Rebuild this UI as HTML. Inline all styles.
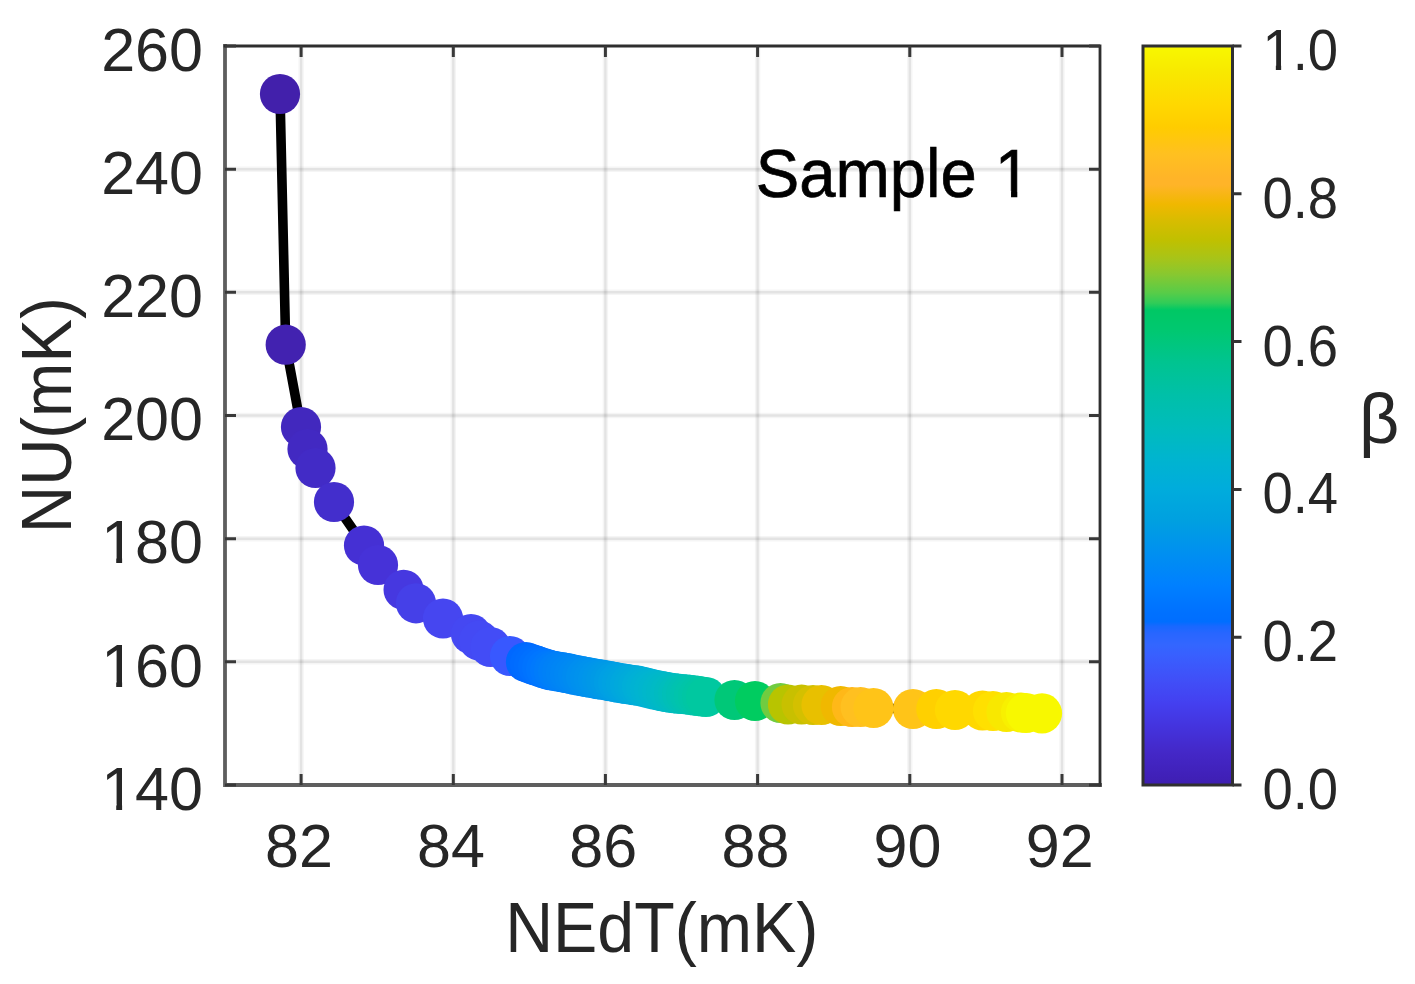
<!DOCTYPE html>
<html><head><meta charset="utf-8"><title>NU vs NEdT</title>
<style>
html,body{margin:0;padding:0;background:#fff;width:1415px;height:984px;overflow:hidden}
svg{display:block;filter:blur(0.45px)}
text{font-family:'Liberation Sans', Arial, Helvetica, sans-serif;}
.t{fill:#262626}
.l{fill:#262626}
.s{fill:#000;stroke:#000;stroke-width:0.7px}
</style></head><body>
<svg width="1415" height="984" viewBox="0 0 1415 984"><defs><linearGradient id="cb" x1="0" y1="0" x2="0" y2="1"><stop offset="0.000" stop-color="#f8f800"/><stop offset="0.036" stop-color="#f8e800"/><stop offset="0.080" stop-color="#ffd800"/><stop offset="0.110" stop-color="#ffcc00"/><stop offset="0.146" stop-color="#ffc020"/><stop offset="0.180" stop-color="#ffb428"/><stop offset="0.188" stop-color="#ffb428"/><stop offset="0.214" stop-color="#f0b800"/><stop offset="0.236" stop-color="#d8bc00"/><stop offset="0.263" stop-color="#c0c000"/><stop offset="0.287" stop-color="#a8c418"/><stop offset="0.309" stop-color="#88c830"/><stop offset="0.334" stop-color="#58cc48"/><stop offset="0.348" stop-color="#30cc58"/><stop offset="0.357" stop-color="#00c864"/><stop offset="0.384" stop-color="#00c870"/><stop offset="0.428" stop-color="#00c490"/><stop offset="0.472" stop-color="#00c0a8"/><stop offset="0.516" stop-color="#00bcbc"/><stop offset="0.560" stop-color="#00b4d0"/><stop offset="0.600" stop-color="#00acdc"/><stop offset="0.642" stop-color="#00a0e0"/><stop offset="0.686" stop-color="#0090f0"/><stop offset="0.730" stop-color="#0080ff"/><stop offset="0.763" stop-color="#0072ff"/><stop offset="0.779" stop-color="#006eff"/><stop offset="0.785" stop-color="#1868ff"/><stop offset="0.795" stop-color="#2866ff"/><stop offset="0.810" stop-color="#3366ff"/><stop offset="0.823" stop-color="#3860ff"/><stop offset="0.856" stop-color="#4050f8"/><stop offset="0.889" stop-color="#4440f0"/><stop offset="0.922" stop-color="#4433dd"/><stop offset="0.955" stop-color="#4428c8"/><stop offset="0.988" stop-color="#4020b8"/><stop offset="1.000" stop-color="#3e1fb0"/></linearGradient></defs>
<rect width="1415" height="984" fill="#fff"/>
<g stroke="#000" fill="none"><path d="M301.1 46.0V785.0 M453.3 46.0V785.0 M605.4 46.0V785.0 M757.6 46.0V785.0 M909.8 46.0V785.0 M1062.0 46.0V785.0" stroke-opacity="0.04" stroke-width="5.5"/><path d="M301.1 46.0V785.0 M453.3 46.0V785.0 M605.4 46.0V785.0 M757.6 46.0V785.0 M909.8 46.0V785.0 M1062.0 46.0V785.0" stroke-opacity="0.07" stroke-width="2.4"/></g>
<g stroke="#000" fill="none"><path d="M225.0 661.8H1100.0 M225.0 538.7H1100.0 M225.0 415.5H1100.0 M225.0 292.3H1100.0 M225.0 169.2H1100.0" stroke-opacity="0.04" stroke-width="5.5"/><path d="M225.0 661.8H1100.0 M225.0 538.7H1100.0 M225.0 415.5H1100.0 M225.0 292.3H1100.0 M225.0 169.2H1100.0" stroke-opacity="0.07" stroke-width="2.4"/></g>
<path d="M280.0 94.0 L285.7 344.7 L301.0 427.0 L307.5 449.0 L315.5 468.0 L334.0 502.0 L364.0 545.5 L378.0 565.0 L403.6 589.8 L416.0 603.3 L443.0 618.5 L471.0 634.0 L479.0 640.5 L490.5 647.0 L510.0 656.0 L526.0 662.0 L530.0 663.5 L534.0 664.9 L538.0 666.2 L542.0 667.6 L546.0 668.9 L550.0 670.1 L554.0 670.8 L558.0 671.5 L562.0 672.2 L566.0 672.9 L570.0 673.7 L574.0 674.6 L578.0 675.4 L582.0 676.2 L586.0 676.9 L590.0 677.6 L594.0 678.3 L598.0 679.1 L602.0 679.7 L606.0 680.3 L610.0 681.1 L614.0 681.8 L618.0 682.6 L622.0 683.3 L626.0 683.9 L630.0 684.5 L634.0 685.1 L638.0 685.7 L642.0 686.5 L646.0 687.5 L650.0 688.5 L654.0 689.5 L658.0 690.3 L662.0 691.1 L666.0 691.9 L670.0 692.7 L674.0 693.2 L678.0 693.6 L682.0 694.0 L686.0 694.3 L690.0 694.8 L694.0 695.4 L698.0 695.9 L702.0 696.5 L706.0 697.0 L734.5 700.0 L755.0 701.0 L780.5 703.0 L788.0 704.5 L801.6 704.5 L813.0 705.0 L821.5 705.0 L840.7 706.0 L852.0 707.0 L860.6 707.0 L873.5 708.0 L913.0 709.0 L936.3 709.0 L955.0 710.0 L982.5 710.5 L993.0 711.0 L1006.5 712.0 L1021.0 712.5 L1026.0 713.0 L1042.0 713.4" stroke="#000" stroke-width="9.6" fill="none" stroke-linejoin="round"/>
<circle cx="280.0" cy="94.0" r="20.1" fill="#4220ab"/>
<circle cx="285.7" cy="344.7" r="20.1" fill="#4222b0"/>
<circle cx="301.0" cy="427.0" r="20.1" fill="#4228be"/>
<circle cx="307.5" cy="449.0" r="20.1" fill="#4229c2"/>
<circle cx="315.5" cy="468.0" r="20.1" fill="#422bc6"/>
<circle cx="334.0" cy="502.0" r="20.1" fill="#432ecc"/>
<circle cx="364.0" cy="545.5" r="20.1" fill="#4530d4"/>
<circle cx="378.0" cy="565.0" r="20.1" fill="#4632d8"/>
<circle cx="403.6" cy="589.8" r="20.1" fill="#4638e0"/>
<circle cx="416.0" cy="603.3" r="20.1" fill="#4540e8"/>
<circle cx="443.0" cy="618.5" r="20.1" fill="#4646f0"/>
<circle cx="471.0" cy="634.0" r="20.1" fill="#4548f2"/>
<circle cx="479.0" cy="640.5" r="20.1" fill="#444af4"/>
<circle cx="490.5" cy="647.0" r="20.1" fill="#434cf6"/>
<circle cx="510.0" cy="656.0" r="20.1" fill="#3858ff"/>
<circle cx="526.0" cy="662.0" r="20.1" fill="#0068ff"/>
<circle cx="530.0" cy="663.5" r="20.1" fill="#006bff"/>
<circle cx="534.0" cy="664.9" r="20.1" fill="#006dff"/>
<circle cx="538.0" cy="666.2" r="20.1" fill="#0070ff"/>
<circle cx="542.0" cy="667.6" r="20.1" fill="#0073ff"/>
<circle cx="546.0" cy="668.9" r="20.1" fill="#0076ff"/>
<circle cx="550.0" cy="670.1" r="20.1" fill="#0079fd"/>
<circle cx="554.0" cy="670.8" r="20.1" fill="#007cfb"/>
<circle cx="558.0" cy="671.5" r="20.1" fill="#007ff9"/>
<circle cx="562.0" cy="672.2" r="20.1" fill="#0081f7"/>
<circle cx="566.0" cy="672.9" r="20.1" fill="#0083f6"/>
<circle cx="570.0" cy="673.7" r="20.1" fill="#0085f5"/>
<circle cx="574.0" cy="674.6" r="20.1" fill="#0087f4"/>
<circle cx="578.0" cy="675.4" r="20.1" fill="#0089f3"/>
<circle cx="582.0" cy="676.2" r="20.1" fill="#008bf1"/>
<circle cx="586.0" cy="676.9" r="20.1" fill="#008ef0"/>
<circle cx="590.0" cy="677.6" r="20.1" fill="#0090ee"/>
<circle cx="594.0" cy="678.3" r="20.1" fill="#0092ed"/>
<circle cx="598.0" cy="679.1" r="20.1" fill="#0094ec"/>
<circle cx="602.0" cy="679.7" r="20.1" fill="#0096ea"/>
<circle cx="606.0" cy="680.3" r="20.1" fill="#0098e8"/>
<circle cx="610.0" cy="681.1" r="20.1" fill="#009ae6"/>
<circle cx="614.0" cy="681.8" r="20.1" fill="#009de5"/>
<circle cx="618.0" cy="682.6" r="20.1" fill="#00a0e4"/>
<circle cx="622.0" cy="683.3" r="20.1" fill="#00a2e2"/>
<circle cx="626.0" cy="683.9" r="20.1" fill="#00a4e0"/>
<circle cx="630.0" cy="684.5" r="20.1" fill="#00a7de"/>
<circle cx="634.0" cy="685.1" r="20.1" fill="#00a9dc"/>
<circle cx="638.0" cy="685.7" r="20.1" fill="#00abda"/>
<circle cx="642.0" cy="686.5" r="20.1" fill="#00aed8"/>
<circle cx="646.0" cy="687.5" r="20.1" fill="#00b0d6"/>
<circle cx="650.0" cy="688.5" r="20.1" fill="#00b2d3"/>
<circle cx="654.0" cy="689.5" r="20.1" fill="#00b4d1"/>
<circle cx="658.0" cy="690.3" r="20.1" fill="#00b5ce"/>
<circle cx="662.0" cy="691.1" r="20.1" fill="#00b7cb"/>
<circle cx="666.0" cy="691.9" r="20.1" fill="#00b8c8"/>
<circle cx="670.0" cy="692.7" r="20.1" fill="#00bac5"/>
<circle cx="674.0" cy="693.2" r="20.1" fill="#00bbc1"/>
<circle cx="678.0" cy="693.6" r="20.1" fill="#00bdbd"/>
<circle cx="682.0" cy="694.0" r="20.1" fill="#00bfb8"/>
<circle cx="686.0" cy="694.3" r="20.1" fill="#00c0b4"/>
<circle cx="690.0" cy="694.8" r="20.1" fill="#00c2b0"/>
<circle cx="694.0" cy="695.4" r="20.1" fill="#00c4ac"/>
<circle cx="698.0" cy="695.9" r="20.1" fill="#00c5a8"/>
<circle cx="702.0" cy="696.5" r="20.1" fill="#00c6a4"/>
<circle cx="706.0" cy="697.0" r="20.1" fill="#00c8a0"/>
<circle cx="734.5" cy="700.0" r="20.1" fill="#00c878"/>
<circle cx="755.0" cy="701.0" r="20.1" fill="#00cc60"/>
<circle cx="780.5" cy="703.0" r="20.1" fill="#70cc40"/>
<circle cx="788.0" cy="704.5" r="20.1" fill="#b8c400"/>
<circle cx="801.6" cy="704.5" r="20.1" fill="#c8c000"/>
<circle cx="813.0" cy="705.0" r="20.1" fill="#d4c000"/>
<circle cx="821.5" cy="705.0" r="20.1" fill="#e8c000"/>
<circle cx="840.7" cy="706.0" r="20.1" fill="#f0b800"/>
<circle cx="852.0" cy="707.0" r="20.1" fill="#ffb818"/>
<circle cx="860.6" cy="707.0" r="20.1" fill="#ffc020"/>
<circle cx="873.5" cy="708.0" r="20.1" fill="#ffc418"/>
<circle cx="913.0" cy="709.0" r="20.1" fill="#ffc418"/>
<circle cx="936.3" cy="709.0" r="20.1" fill="#ffd000"/>
<circle cx="955.0" cy="710.0" r="20.1" fill="#ffd800"/>
<circle cx="982.5" cy="710.5" r="20.1" fill="#ffd800"/>
<circle cx="993.0" cy="711.0" r="20.1" fill="#ffe000"/>
<circle cx="1006.5" cy="712.0" r="20.1" fill="#f8e800"/>
<circle cx="1021.0" cy="712.5" r="20.1" fill="#f8f000"/>
<circle cx="1026.0" cy="713.0" r="20.1" fill="#f8f800"/>
<circle cx="1042.0" cy="713.4" r="20.1" fill="#f8f800"/>
<path d="M225.0 46.0V785.0H1100.0" fill="none" stroke="#5e5e5e" stroke-width="3.8" stroke-linecap="square"/>
<path d="M225.0 46.0H1100.0V785.0" fill="none" stroke="#2e2e2e" stroke-width="2.8" stroke-linecap="square"/>
<path d="M301.1 785.0v-11M301.1 46.0v11M453.3 785.0v-11M453.3 46.0v11M605.4 785.0v-11M605.4 46.0v11M757.6 785.0v-11M757.6 46.0v11M909.8 785.0v-11M909.8 46.0v11M1062.0 785.0v-11M1062.0 46.0v11M225.0 785.0h11M1100.0 785.0h-11M225.0 661.8h11M1100.0 661.8h-11M225.0 538.7h11M1100.0 538.7h-11M225.0 415.5h11M1100.0 415.5h-11M225.0 292.3h11M1100.0 292.3h-11M225.0 169.2h11M1100.0 169.2h-11M225.0 46.0h11M1100.0 46.0h-11" stroke="#383838" stroke-width="3.0" fill="none"/>
<text transform="translate(203.00 809.70) scale(0.9850 1)" text-anchor="end" font-size="62.00" class="t">140</text>
<text transform="translate(203.00 686.53) scale(0.9850 1)" text-anchor="end" font-size="62.00" class="t">160</text>
<text transform="translate(203.00 563.37) scale(0.9850 1)" text-anchor="end" font-size="62.00" class="t">180</text>
<text transform="translate(203.00 440.20) scale(0.9850 1)" text-anchor="end" font-size="62.00" class="t">200</text>
<text transform="translate(203.00 317.03) scale(0.9850 1)" text-anchor="end" font-size="62.00" class="t">220</text>
<text transform="translate(203.00 193.87) scale(0.9850 1)" text-anchor="end" font-size="62.00" class="t">240</text>
<text transform="translate(203.00 70.70) scale(0.9850 1)" text-anchor="end" font-size="62.00" class="t">260</text>
<text transform="translate(298.89 866.60) scale(0.9850 1)" text-anchor="middle" font-size="62.00" class="t">82</text>
<text transform="translate(451.06 866.60) scale(0.9850 1)" text-anchor="middle" font-size="62.00" class="t">84</text>
<text transform="translate(603.23 866.60) scale(0.9850 1)" text-anchor="middle" font-size="62.00" class="t">86</text>
<text transform="translate(755.41 866.60) scale(0.9850 1)" text-anchor="middle" font-size="62.00" class="t">88</text>
<text transform="translate(907.58 866.60) scale(0.9850 1)" text-anchor="middle" font-size="62.00" class="t">90</text>
<text transform="translate(1059.76 866.60) scale(0.9850 1)" text-anchor="middle" font-size="62.00" class="t">92</text>
<text transform="translate(661.80 951.70) scale(0.9490 1)" text-anchor="middle" font-size="69.90" class="l">NEdT(mK)</text>
<text transform="translate(71.1 415.1) rotate(-90) scale(0.94 1)" text-anchor="middle" font-size="69.5" class="l">NU(mK)</text>
<text transform="translate(755.70 197.00) scale(0.9450 1)" text-anchor="start" font-size="69.00" class="s">Sample 1</text>
<rect x="1143.0" y="46.0" width="89.5" height="739.0" fill="url(#cb)" stroke="#303030" stroke-width="3.0"/>
<path d="M1232.5 785.0h9M1232.5 637.2h9M1232.5 489.4h9M1232.5 341.6h9M1232.5 193.8h9M1232.5 46.0h9" stroke="#333" stroke-width="3.0" fill="none"/>
<text transform="translate(1262.40 809.00) scale(0.9620 1)" text-anchor="start" font-size="56.60" class="t">0.0</text>
<text transform="translate(1262.40 661.20) scale(0.9620 1)" text-anchor="start" font-size="56.60" class="t">0.2</text>
<text transform="translate(1262.40 513.40) scale(0.9620 1)" text-anchor="start" font-size="56.60" class="t">0.4</text>
<text transform="translate(1262.40 365.60) scale(0.9620 1)" text-anchor="start" font-size="56.60" class="t">0.6</text>
<text transform="translate(1262.40 217.80) scale(0.9620 1)" text-anchor="start" font-size="56.60" class="t">0.8</text>
<text transform="translate(1262.40 70.00) scale(0.9620 1)" text-anchor="start" font-size="56.60" class="t">1.0</text>
<text transform="translate(1379.20 442.50) scale(1.0000 1)" text-anchor="middle" font-size="70.00" class="l">β</text>
<rect x="104.16" y="804.07" width="12.06" height="7.23" fill="#fff"/>
<rect x="122.11" y="804.07" width="11.58" height="7.23" fill="#fff"/>
<rect x="104.16" y="680.90" width="12.06" height="7.23" fill="#fff"/>
<rect x="122.11" y="680.90" width="11.58" height="7.23" fill="#fff"/>
<rect x="104.16" y="557.73" width="12.06" height="7.23" fill="#fff"/>
<rect x="122.11" y="557.73" width="11.58" height="7.23" fill="#fff"/>
<rect x="998.27" y="190.85" width="12.78" height="7.75" fill="#fff"/>
<rect x="1017.31" y="190.85" width="12.27" height="7.75" fill="#fff"/>
<rect x="1264.95" y="64.77" width="10.89" height="6.83" fill="#fff"/>
<rect x="1281.15" y="64.77" width="10.47" height="6.83" fill="#fff"/>
</svg>
</body></html>
